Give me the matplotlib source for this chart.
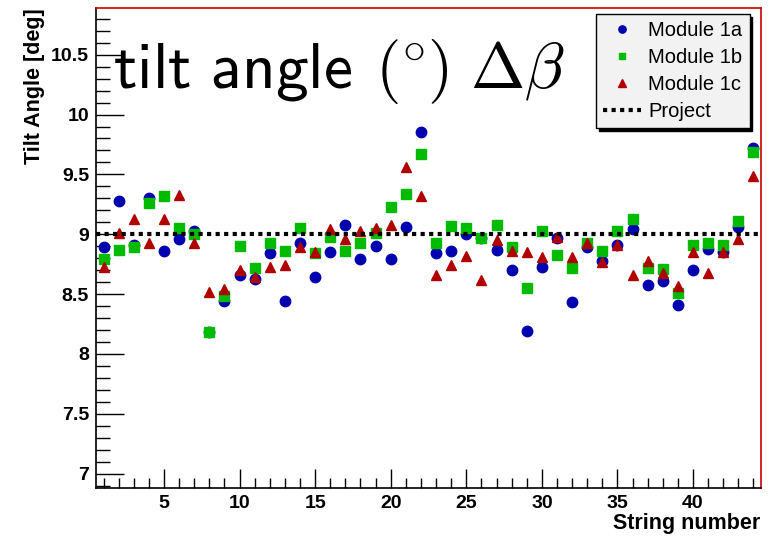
import numpy as np
import matplotlib
matplotlib.use('Agg')
from matplotlib import pyplot as plt
from matplotlib.ticker import MultipleLocator

plt.rcParams['font.family'] = ['Liberation Sans', 'DejaVu Sans']

strings = np.arange(1, 45)

# Module 1a (blue circles)
mod_1a = [8.89, 9.28, 8.91, 9.30, 8.86, 8.96, 9.03, 8.18, 8.44, 8.66,
          8.63, 8.84, 8.44, 8.93, 8.64, 8.85, 9.08, 8.79, 8.90, 8.79,
          9.06, 9.85, 8.84, 8.86, 9.00, 8.97, 8.87, 8.70, 8.19, 8.73,
          8.97, 8.43, 8.89, 8.78, 8.91, 9.04, 8.58, 8.61, 8.41, 8.70,
          8.88, 8.85, 9.06, 9.72]
# Module 1b (green squares)
mod_1b = [8.79, 8.87, 8.89, 9.26, 9.32, 9.05, 9.00, 8.18, 8.48, 8.90,
          8.72, 8.93, 8.86, 9.05, 8.84, 8.98, 8.86, 8.93, 9.01, 9.23,
          9.34, 9.67, 8.93, 9.07, 9.05, 8.97, 9.08, 8.89, 8.55, 9.03,
          8.83, 8.72, 8.93, 8.86, 9.03, 9.13, 8.72, 8.71, 8.51, 8.91,
          8.93, 8.91, 9.11, 9.69]
# Module 1c (red triangles)
mod_1c = [8.73, 9.01, 9.13, 8.93, 9.13, 9.33, 8.93, 8.52, 8.54, 8.70,
          8.64, 8.73, 8.74, 8.89, 8.85, 9.04, 8.96, 9.03, 9.05, 9.08,
          9.56, 9.32, 8.66, 8.74, 8.82, 8.62, 8.95, 8.86, 8.85, 8.81,
          8.98, 8.81, 8.93, 8.77, 8.91, 8.66, 8.78, 8.68, 8.57, 8.85,
          8.68, 8.85, 8.96, 9.49]
project = 9.0

fig = plt.figure(figsize=(7.79, 5.37), dpi=100)
ax = fig.add_axes([96/779, 1-488/537, 665/779, 480/537])

ax.plot(strings, mod_1a, 'o', color='#0000b0', ms=7.5, mec='#0000b0', label='Module 1a')
ax.plot(strings, mod_1b, 's', color='#00bb00', ms=7, mec='#00bb00', label='Module 1b')
ax.plot(strings, mod_1c, '^', color='#b00000', ms=7.5, mec='#b00000', label='Module 1c')
ax.axhline(project, color='black', lw=3, ls=(0, (1, 1.05)), label='Project')

ax.set_xlim(0.5, 44.5)
ax.set_ylim(6.88, 10.89)

ax.xaxis.set_major_locator(MultipleLocator(5))
ax.xaxis.set_minor_locator(MultipleLocator(1))
ax.yaxis.set_minor_locator(MultipleLocator(0.1))
ax.set_yticks([7, 7.5, 8, 8.5, 9, 9.5, 10, 10.5])
ax.set_yticklabels(['7', '7.5', '8', '8.5', '9', '9.5', '10', '10.5'])
ax.tick_params(axis='both', which='both', direction='in', top=False, right=False,
               labelsize=14, color='black')
ax.tick_params(axis='y', which='major', length=20, width=1, pad=5)
ax.tick_params(axis='y', which='minor', length=10, width=1)
ax.tick_params(axis='x', which='major', length=14, width=1, pad=5)
ax.tick_params(axis='x', which='minor', length=7, width=1)
for lab in ax.get_xticklabels() + ax.get_yticklabels():
    lab.set_fontweight('bold')

for s in ax.spines.values():
    s.set_color('#cc0000')
    s.set_linewidth(1.2)
ax.spines['left'].set_color('black')
ax.spines['bottom'].set_color('black')

fig.text(35/779, 1-8/537, 'Tilt Angle [deg]', rotation=90, ha='center', va='top',
         fontsize=15.5, fontweight='bold')
fig.text(760/779, 1-523/537, 'String number', ha='right', va='center',
         fontsize=15.5, fontweight='bold')

ax.text(0.026, 0.833,
        r'$\mathsf{tilt\ angle}\hspace{0.4}(\!^\circ\!)\hspace{0.3}\Delta\beta$',
        transform=ax.transAxes, fontsize=47, math_fontfamily='cm',
        ha='left', va='baseline')

leg = ax.legend(loc='upper left', bbox_to_anchor=(596/779, 1-14/537),
                bbox_transform=fig.transFigure, borderaxespad=0,
                frameon=True, fancybox=False, shadow={'color': 'black', 'alpha': 1},
                borderpad=0.35, labelspacing=0.4, handlelength=1.9, handletextpad=0.35,
                markerscale=0.7, prop={'size': 14.5})
leg.get_frame().set_facecolor('#f2f2f2')
leg.get_frame().set_edgecolor('black')
leg.get_frame().set_alpha(1)

fig.savefig('out.png', dpi=100, facecolor='white')
